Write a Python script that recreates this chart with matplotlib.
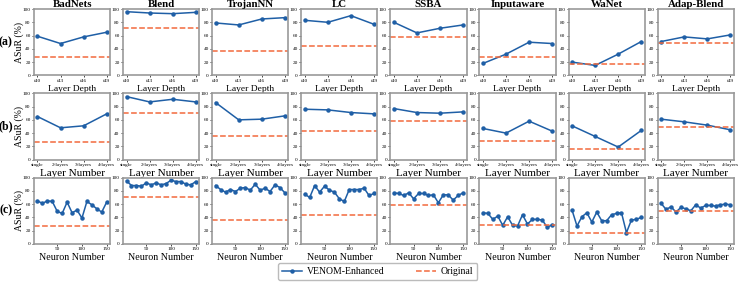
import numpy as np
import matplotlib
matplotlib.use('Agg')
import matplotlib.pyplot as plt

plt.rcParams['font.family'] = ['Liberation Serif', 'DejaVu Serif']
plt.rcParams['mathtext.default'] = 'regular'

# attacks (columns)
attacks = ['BadNets', 'Blend', 'TrojanNN', 'LC', 'SSBA', 'Inputaware', 'WaNet', 'Adap-Blend']

# original ASuR per attack, per row
orig_a = [27, 71, 36, 44, 58, 28, 17, 49]
orig_b = [27, 70, 36, 43, 58, 28, 16, 49]
orig_c = [27, 70, 36, 43, 58, 28, 17, 49]

# (a) layer depth
depth_ticks = ['f40', 'f43', 'f46', 'f49']
depth_vals = [
    [59, 48, 58, 65],
    [96, 94, 93, 95],
    [79, 76, 85, 87],
    [83, 80, 90, 77],
    [80, 64, 71, 76],
    [18, 32, 50, 48],
    [20, 15, 32, 51],
    [51, 58, 55, 61],
]

# (b) layer number
layer_ticks = ['single', '2-layers', '3-layers', '4-layers']
layer_vals = [
    [65, 48, 51, 69],
    [95, 87, 91, 87],
    [86, 60, 61, 66],
    [76, 75, 71, 69],
    [77, 71, 70, 72],
    [47, 40, 58, 43],
    [51, 35, 19, 44],
    [61, 57, 52, 45],
]

# (c) neuron number
neurons = [10, 20, 30, 40, 50, 60, 70, 80, 90, 100, 110, 120, 130, 140, 150]
neuron_vals = [
    [65, 61, 65, 64, 49, 46, 63, 47, 51, 39, 64, 59, 53, 48, 63],
    [95, 88, 88, 87, 92, 89, 92, 89, 91, 96, 94, 94, 90, 89, 94],
    [88, 82, 78, 82, 79, 84, 85, 81, 90, 81, 84, 79, 89, 85, 77],
    [75, 70, 88, 78, 87, 81, 78, 68, 64, 82, 82, 82, 84, 73, 76],
    [77, 76, 73, 77, 68, 76, 76, 73, 74, 62, 74, 74, 66, 73, 77],
    [47, 46, 37, 42, 28, 41, 28, 27, 44, 30, 37, 37, 36, 25, 29],
    [51, 27, 41, 47, 33, 48, 35, 35, 44, 46, 47, 17, 36, 37, 40],
    [61, 52, 56, 48, 55, 53, 50, 59, 54, 58, 58, 57, 59, 60, 59],
]

blue = '#1f5fa6'
orange = '#f26a3d'

fig, axes = plt.subplots(3, 8, figsize=(7.39, 2.82), dpi=100)
fig.subplots_adjust(left=0.046, right=0.993, top=0.968, bottom=0.135,
                    wspace=0.17, hspace=0.27)

# values, original, x label, label size, row tag
rows = [
    (depth_vals, orig_a, 'Layer Depth', 6.8, '(a)'),
    (layer_vals, orig_b, 'Layer Number', 8, '(b)'),
    (neuron_vals, orig_c, 'Neuron Number', 7.2, '(c)'),
]

for r, (vals, orig, xlab, xls, tag) in enumerate(rows):
    for c in range(8):
        ax = axes[r, c]
        if r < 2:
            x = np.arange(4)
            ax.plot(x, vals[c], color=blue, lw=1.1, marker='o', ms=2.2, label='VENOM-Enhanced')
            ax.set_xticks(x)
            ax.set_xticklabels(depth_ticks if r == 0 else layer_ticks)
        else:
            ax.plot(neurons, vals[c], color=blue, lw=1.1, marker='o', ms=2.2, label='VENOM-Enhanced')
            ax.set_xticks([50, 100, 150])
        ax.axhline(orig[c], color=orange, lw=1.1, ls='--', label='Original')
        ax.set_ylim(0, 100)
        ax.set_yticks([0, 20, 40, 60, 80, 100])
        ax.tick_params(labelsize=3.8, length=1.5, width=0.5, pad=1)
        ax.set_xlabel(xlab, fontsize=xls, labelpad=1.5)
        for sp in ax.spines.values():
            sp.set_color('#999999')
            sp.set_linewidth(1.2)
        if r == 0:
            ax.set_title(attacks[c], fontsize=7.8, fontweight='bold', pad=1)
        if c == 0:
            ax.set_ylabel('ASuR (%)', fontsize=7)
            ax.yaxis.set_label_coords(-0.125, 0.5)
            ax.text(-0.37, 0.5, tag, transform=ax.transAxes, fontsize=8.5,
                    fontweight='bold', ha='center', va='center')

handles, labels = axes[0, 0].get_legend_handles_labels()
fig.legend(handles, labels, loc='center', bbox_to_anchor=(0.511, 0.037), ncol=2,
           fontsize=7, frameon=True, edgecolor='#aaaaaa', handlelength=2.1,
           handletextpad=0.5, columnspacing=3.2, borderpad=0.4)

fig.savefig('out.png', dpi=100)
